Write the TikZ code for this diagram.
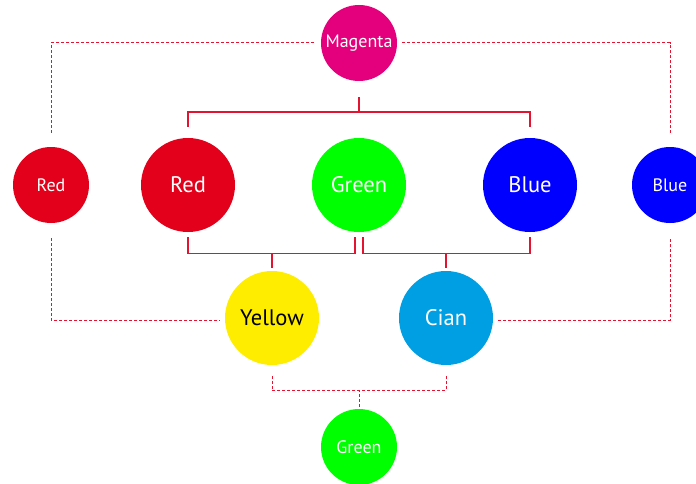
\documentclass[tikz,border=0pt]{standalone}
\usepackage{fontspec}
\setmainfont{PT Sans}
\usetikzlibrary{positioning}

\definecolor{cmagenta}{RGB}{228,0,124}
\definecolor{cred}{RGB}{226,0,26}
\definecolor{cgreen}{RGB}{0,255,0}
\definecolor{cblue}{RGB}{0,0,255}
\definecolor{cyellow}{RGB}{255,237,0}
\definecolor{ccian}{RGB}{0,159,227}
\definecolor{cline}{RGB}{226,20,50}

\begin{document}
\begin{tikzpicture}[x=1pt, y=1pt, node distance=171pt, on grid]
        % Define circle styles
        \tikzstyle{big} = [circle, inner sep=0pt, minimum size=94pt,
            text=white, font=\fontsize{22.5}{26}\selectfont]
        \tikzstyle{small} = [circle, inner sep=0pt, minimum size=76pt,
            text=white, font=\fontsize{18}{21}\selectfont]
        \tikzstyle{bus} = [draw=cline, line width=1.4pt]
        \tikzstyle{dashline} = [draw=cline, line width=1pt, dash pattern=on 3pt off 2pt]

        \useasboundingbox (0,0) rectangle (696,483);

        % Nodes
        \node [small, fill=cmagenta] (magenta) at (359,440) {Magenta};
        \node [big, fill=cgreen, below=142pt of magenta] (green) {Green};
        \node [big, fill=cred, left=of green] (red) {Red};
        \node [big, fill=cblue, right=of green] (blue) {Blue};
        \node [small, fill=cred, left=137pt of red] (redS) {Red};
        \node [small, fill=cblue, right=140pt of blue] (blueS) {Blue};
        \node [big, fill=cyellow, text=black, below left=133pt and 87pt of green] (yellow) {Yellow};
        \node [big, fill=ccian, below right=133pt and 87pt of green] (cian) {Cian};
        \node [small, fill=cgreen, below=262pt of green] (greenS) {Green};

        % Solid lines
        \path [bus] ([yshift=-16pt]magenta.south) -- ++(0,-15) coordinate (mtop);
        \path [bus] ([yshift=11pt]red.north) |- (mtop) -| ([yshift=11pt]blue.north);
        \path [bus] ([yshift=-5pt]red.south) -- ++(0,-16) -| ([xshift=-4pt, yshift=-5pt]green.south);
        \path [bus] ([xshift=4pt, yshift=-5pt]green.south) -- ++(0,-16) -| ([yshift=-5pt]blue.south);
        \path [bus] ([yshift=3pt]yellow.north) -- ++(0,15);
        \path [bus] ([yshift=3pt]cian.north) -- ++(0,15);

        % Dashed lines
        \path [dashline] ([yshift=14pt]redS.north) |- ([xshift=-5pt]magenta.west);
        \path [dashline] ([xshift=5pt]magenta.east) -| ([yshift=14pt]blueS.north);
        \path [dashline] ([yshift=-15pt]redS.south) |- ([xshift=-5pt, yshift=-2pt]yellow.west);
        \path [dashline] ([xshift=5pt, yshift=-2pt]cian.east) -| ([yshift=-15pt]blueS.south);
        \path [dashline] ([yshift=2pt]greenS.north) -- ++(0,16) coordinate (gtop);
        \path [dashline] ([yshift=-11pt]yellow.south) |- (gtop) -| ([yshift=-11pt]cian.south);
    \end{tikzpicture}
\end{document}
